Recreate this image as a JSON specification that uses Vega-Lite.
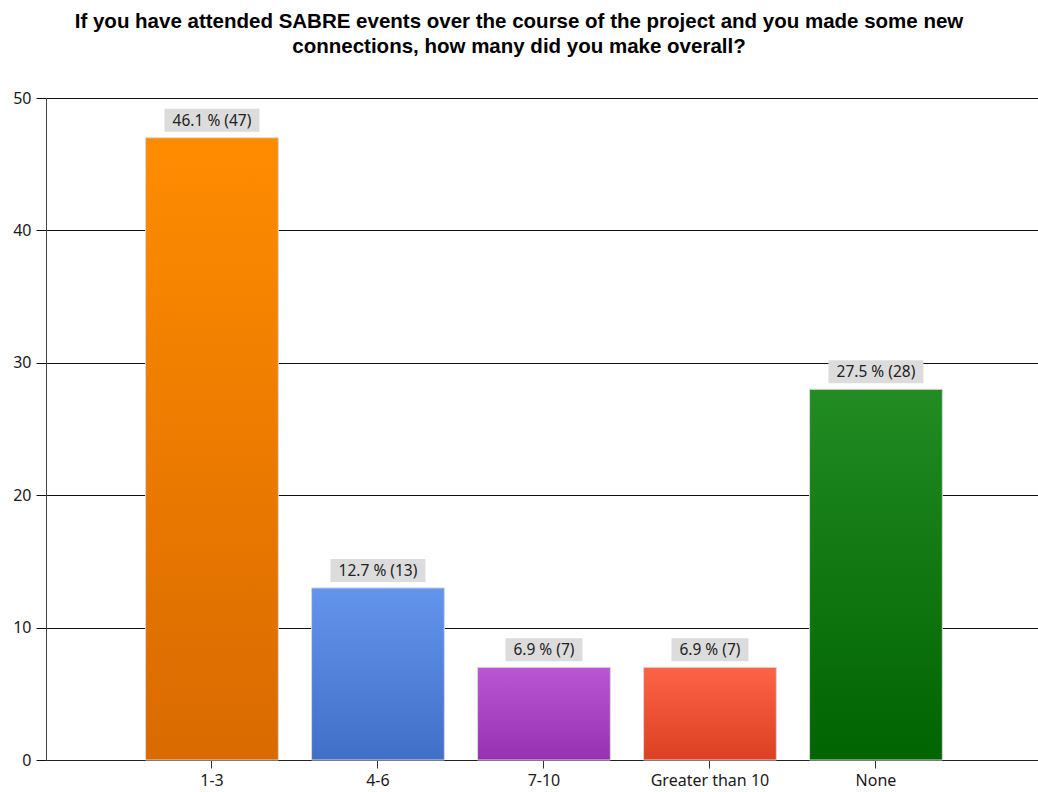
{
  "$schema": "https://vega.github.io/schema/vega-lite/v6.json",
  "width": 992,
  "height": 662,
  "autosize": {"type": "none"},
  "padding": {"left": 46, "top": 98, "right": 0, "bottom": 32},
  "background": "white",
  "title": {
    "text": ["If you have attended SABRE events over the course of the project and you made some new", "connections, how many did you make overall?"],
    "font": "Liberation Sans",
    "fontSize": 20.5,
    "fontWeight": "bold",
    "color": "black",
    "anchor": "middle",
    "frame": "group",
    "dx": -23,
    "offset": 33,
    "lineHeight": 24.5
  },
  "config": {
    "view": {"stroke": null},
    "axis": {
      "labelFont": "Noto Sans",
      "labelFontSize": 16,
      "labelColor": "#1a1a1a",
      "title": null
    }
  },
  "data": {
    "values": [
      {"response": "1-3", "count": 47, "percent": 46.1},
      {"response": "4-6", "count": 13, "percent": 12.7},
      {"response": "7-10", "count": 7, "percent": 6.9},
      {"response": "Greater than 10", "count": 7, "percent": 6.9},
      {"response": "None", "count": 28, "percent": 27.5}
    ]
  },
  "transform": [
    {"calculate": "format(datum.percent, '.1f') + ' % (' + datum.count + ')'", "as": "label"}
  ],
  "encoding": {
    "x": {
      "field": "response",
      "type": "nominal",
      "sort": null,
      "scale": {"paddingInner": 0.2, "paddingOuter": 0.588, "align": 0.51},
      "axis": {
        "labelAngle": 0,
        "domainColor": "#222",
        "tickColor": "#333",
        "tickSize": 8,
        "labelPadding": 4,
        "title": null
      }
    },
    "y": {
      "field": "count",
      "type": "quantitative",
      "scale": {"domain": [0, 50], "nice": false},
      "axis": {
        "values": [0, 10, 20, 30, 40, 50],
        "grid": true,
        "gridColor": "#111",
        "gridWidth": 1,
        "domainColor": "#444",
        "tickColor": "#111",
        "tickSize": 10,
        "labelPadding": 5,
        "title": null
      }
    }
  },
  "layer": [
    {
      "mark": {"type": "bar", "stroke": "#d9d9d9", "strokeWidth": 1},
      "encoding": {
        "fill": {
          "condition": [
            {"test": "datum.response === '1-3'", "value": {"gradient": "linear", "x1": 0, "y1": 0, "x2": 0, "y2": 1, "stops": [{"offset": 0, "color": "#FF8C00"}, {"offset": 1, "color": "#D96A00"}]}},
            {"test": "datum.response === '4-6'", "value": {"gradient": "linear", "x1": 0, "y1": 0, "x2": 0, "y2": 1, "stops": [{"offset": 0, "color": "#6495ED"}, {"offset": 1, "color": "#3F6FC6"}]}},
            {"test": "datum.response === '7-10'", "value": {"gradient": "linear", "x1": 0, "y1": 0, "x2": 0, "y2": 1, "stops": [{"offset": 0, "color": "#BA55D3"}, {"offset": 1, "color": "#9632B2"}]}},
            {"test": "datum.response === 'Greater than 10'", "value": {"gradient": "linear", "x1": 0, "y1": 0, "x2": 0, "y2": 1, "stops": [{"offset": 0, "color": "#FF6347"}, {"offset": 1, "color": "#DC4023"}]}}
          ],
          "value": {"gradient": "linear", "x1": 0, "y1": 0, "x2": 0, "y2": 1, "stops": [{"offset": 0, "color": "#228B22"}, {"offset": 1, "color": "#006400"}]}
        }
      }
    },
    {
      "transform": [{"filter": "length(datum.label) > 9"}],
      "mark": {"type": "bar", "color": "#DCDCDC", "width": 95, "yOffset": -6, "y2Offset": -29},
      "encoding": {
        "y2": {"field": "count"}
      }
    },
    {
      "transform": [{"filter": "length(datum.label) <= 9"}],
      "mark": {"type": "bar", "color": "#DCDCDC", "width": 77, "yOffset": -6, "y2Offset": -29},
      "encoding": {
        "y2": {"field": "count"}
      }
    },
    {
      "mark": {"type": "text", "font": "Noto Sans", "fontSize": 15.5, "color": "#222", "baseline": "middle", "align": "center", "dy": -17},
      "encoding": {
        "text": {"field": "label"}
      }
    }
  ]
}
